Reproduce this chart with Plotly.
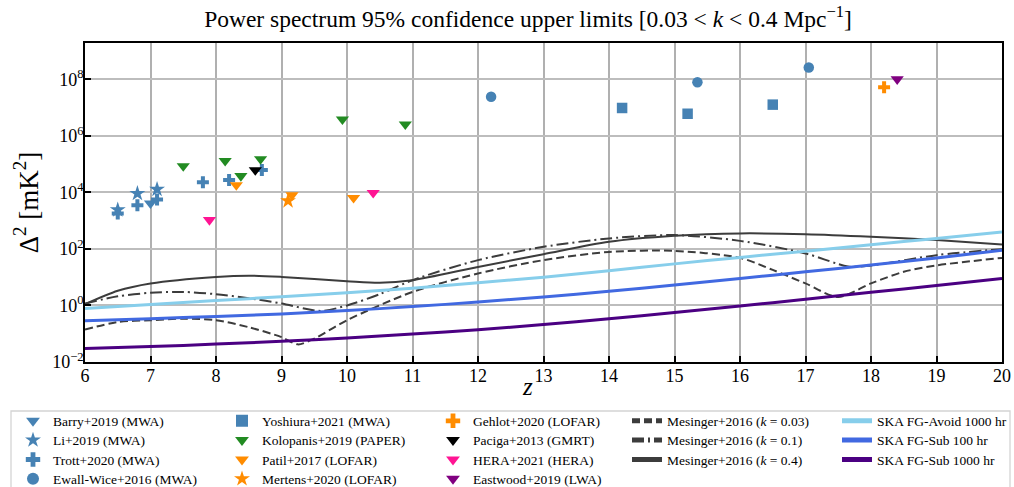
import plotly.graph_objects as go

# ---------------- data ----------------
barry_z = [7.0]
barry_d = [4.1e3]
li_z = [6.5, 6.8, 7.1]
li_d = [2.4e3, 9.1e3, 1.27e4]
trott_z = [6.5, 6.8, 7.1, 7.8, 8.2, 8.7]
trott_d = [1.8e3, 3.5e3, 5.6e3, 2.25e4, 2.7e4, 6.1e4]
ewall_z = [12.2, 15.35, 17.05]
ewall_d = [2.4e7, 7.8e7, 2.6e8]
yosh_z = [14.2, 15.2, 16.5]
yosh_d = [9.6e6, 6.0e6, 1.26e7]
kolo_z = [7.5, 8.14, 8.38, 8.68, 9.93, 10.89]
kolo_d = [8.5e4, 1.3e5, 3.8e4, 1.5e5, 3.8e6, 2.55e6]
patil_z = [8.31, 9.16, 10.1]
patil_d = [1.8e4, 8.0e3, 6.4e3]
mertens_z = [9.1]
mertens_d = [5.0e3]
gehlot_z = [18.2]
gehlot_d = [5.2e7]
paciga_z = [8.6]
paciga_d = [6.1e4]
hera_z = [7.9, 10.4]
hera_d = [1.05e3, 9.6e3]
east_z = [18.4]
east_d = [1.0e8]

mes003_z = [6, 6.5, 7, 7.5, 8, 8.5, 9, 9.25, 9.5, 10, 11, 12, 13, 14, 15, 16, 16.5, 17, 17.5, 18, 18.5, 19, 20]
mes003_d = [0.14, 0.26, 0.30, 0.34, 0.30, 0.17, 0.076, 0.042, 0.067, 0.30, 3.0, 13.5, 40, 78, 85, 48, 18, 6.0, 2.0, 6.0, 15.5, 26, 48]
mes01_z = [6, 6.5, 7, 7.5, 8, 8.5, 9, 9.6, 10, 10.5, 11, 12, 13, 14, 15, 16, 17, 17.65, 18, 19, 20]
mes01_d = [1.17, 2.1, 2.8, 3.0, 2.5, 1.8, 1.17, 0.64, 1.0, 2.5, 7.8, 40, 118, 234, 307, 192, 69, 24, 26, 60, 98]
mes04_z = [6, 6.5, 7, 8, 8.5, 9, 10, 10.5, 11, 12, 13, 14, 15, 16, 17, 18, 19, 20]
mes04_d = [1.1, 3.3, 6.0, 10.2, 11.3, 10.2, 7.2, 6.3, 7.8, 23, 65, 178, 290, 353, 330, 268, 204, 144]

ska_z = [6, 7, 8, 9, 10, 11, 12, 13, 14, 15, 16, 17, 18, 19, 20]
ska_avoid = [0.78, 1.07, 1.48, 2.04, 2.82, 4.07, 6.3, 10, 17, 29.5, 50, 83, 141, 234, 398]
ska_sub100 = [0.29, 0.34, 0.41, 0.50, 0.66, 0.91, 1.32, 2.0, 3.16, 5.25, 8.9, 15.5, 26.9, 47.9, 89]
ska_sub1000 = [0.030, 0.035, 0.043, 0.054, 0.071, 0.098, 0.138, 0.21, 0.34, 0.56, 0.95, 1.66, 2.9, 5.1, 8.9]

x_ticks = list(range(6, 21))
y_tickvals = [1e-2, 1e0, 1e2, 1e4, 1e6, 1e8]
y_ticktext = ["10<sup>−2</sup>", "10<sup>0</sup>", "10<sup>2</sup>", "10<sup>4</sup>",
              "10<sup>6</sup>", "10<sup>8</sup>"]

FONT = "Liberation Serif, Times New Roman, serif"
MES_COL = "#3c3c3c"

# legend grid (pixel positions of each entry's text start / row centre)
W, H = 1014, 487
ML, MR, MT, MB = 85, 12, 43, 125
PW, PH = W - ML - MR, H - MT - MB
COL_TEXT_X = [53, 262, 473, 667, 877]
ROW_Y = [421, 440.3, 459.7, 479]

fig = go.Figure()
legends = {}
counter = [0]


def leg_for(col, row):
    counter[0] += 1
    key = "legend" if counter[0] == 1 else "legend%d" % counter[0]
    legends[key] = dict(
        x=(COL_TEXT_X[col] - 40 - ML) / PW, xanchor="left",
        y=(MT + PH - ROW_Y[row]) / PH, yanchor="middle",
        orientation="v", bgcolor="rgba(0,0,0,0)", borderwidth=0,
        itemsizing="constant",
        font=dict(family=FONT, size=13.5, color="#000"))
    return key


def curve(x, y, name, color, width, dash, col, row):
    fig.add_trace(go.Scatter(x=x, y=y, mode="lines", name=name, legend=leg_for(col, row),
                             line=dict(color=color, width=width, dash=dash, shape="spline", smoothing=0.8)))


def pts(x, y, name, color, symbol, size, col, row):
    fig.add_trace(go.Scatter(x=x, y=y, mode="markers", name=name, legend=leg_for(col, row),
                             marker=dict(color=color, symbol=symbol, size=size, line=dict(width=0))))


# ---- model curves ----
curve(mes003_z, mes003_d, "Mesinger+2016 (<i>k</i> = 0.03)", MES_COL, 2, "8px,4px", 3, 0)
curve(mes01_z, mes01_d, "Mesinger+2016 (<i>k</i> = 0.1)", MES_COL, 2, "12px,4px,2px,4px", 3, 1)
curve(mes04_z, mes04_d, "Mesinger+2016 (<i>k</i> = 0.4)", MES_COL, 2, "solid", 3, 2)
curve(ska_z, ska_avoid, "SKA FG-Avoid 1000 hr", "#87ceeb", 3, "solid", 4, 0)
curve(ska_z, ska_sub100, "SKA FG-Sub 100 hr", "#4169e1", 3, "solid", 4, 1)
curve(ska_z, ska_sub1000, "SKA FG-Sub 1000 hr", "#4b0082", 3, "solid", 4, 2)

# ---- measurements ----
SB = "#4682b4"
TRI, STAR, CROSS, CIRC, SQ = 11.5, 12, 10, 10.5, 10.5
pts(barry_z, barry_d, "Barry+2019 (MWA)", SB, "triangle-down", TRI, 0, 0)
pts(li_z, li_d, "Li+2019 (MWA)", SB, "star", STAR, 0, 1)
pts(trott_z, trott_d, "Trott+2020 (MWA)", SB, "cross", CROSS, 0, 2)
pts(ewall_z, ewall_d, "Ewall-Wice+2016 (MWA)", SB, "circle", CIRC, 0, 3)
pts(yosh_z, yosh_d, "Yoshiura+2021 (MWA)", SB, "square", SQ, 1, 0)
pts(kolo_z, kolo_d, "Kolopanis+2019 (PAPER)", "#228b22", "triangle-down", TRI, 1, 1)
pts(patil_z, patil_d, "Patil+2017 (LOFAR)", "#ff8c00", "triangle-down", TRI, 1, 2)
pts(mertens_z, mertens_d, "Mertens+2020 (LOFAR)", "#ff8c00", "star", STAR, 1, 3)
pts(gehlot_z, gehlot_d, "Gehlot+2020 (LOFAR)", "#ff8c00", "cross", CROSS, 2, 0)
pts(paciga_z, paciga_d, "Paciga+2013 (GMRT)", "#000000", "triangle-down", TRI, 2, 1)
pts(hera_z, hera_d, "HERA+2021 (HERA)", "#ff1493", "triangle-down", TRI, 2, 2)
pts(east_z, east_d, "Eastwood+2019 (LWA)", "#800080", "triangle-down", TRI, 2, 3)

fig.update_layout(**legends)

fig.add_shape(type="rect", xref="paper", yref="paper",
              x0=(11 - ML) / PW, x1=(1010 - ML) / PW, y0=-0.60, y1=(MT + PH - 411) / PH,
              line=dict(color="#d4d4d4", width=1.3), fillcolor="rgba(0,0,0,0)", layer="below")

fig.add_annotation(text="<i>z</i>", xref="paper", yref="paper", x=(527 - ML) / PW, y=(MT + PH - 386) / PH,
                   xanchor="center", yanchor="middle", showarrow=False,
                   font=dict(family=FONT, size=25, color="#000"))

fig.update_layout(
    width=W, height=H,
    margin=dict(l=ML, r=MR, t=MT, b=MB, autoexpand=False),
    paper_bgcolor="white", plot_bgcolor="white",
    font=dict(family=FONT, color="#000"),
    title=dict(text="Power spectrum 95% confidence upper limits [0.03 &lt; <i>k</i> &lt; 0.4 Mpc<sup>−1</sup>]",
               x=0.5207, xanchor="center", y=0.962, yanchor="middle",
               font=dict(family=FONT, size=23.5, color="#000")),
    xaxis=dict(range=[6, 20], tickvals=x_ticks, ticks="inside", ticklen=6, tickwidth=1.5,
               tickcolor="#000", showline=True, linecolor="#000", linewidth=1.5, mirror=True,
               showgrid=True, gridcolor="#b0b0b0", gridwidth=1.8, zeroline=False,
               tickfont=dict(family=FONT, size=18), ticklabelstandoff=-3),
    yaxis=dict(type="log", range=[-2, 9.28], tickvals=y_tickvals, ticktext=y_ticktext,
               ticks="inside", ticklen=6, tickwidth=1.5, tickcolor="#000",
               showline=True, linecolor="#000", linewidth=1.5, mirror=True,
               showgrid=True, gridcolor="#bdbdbd", gridwidth=1.8, zeroline=False,
               tickfont=dict(family=FONT, size=18), ticklabelstandoff=-4,
               title=dict(text="Δ<sup>2</sup> [mK<sup>2</sup>]", font=dict(family=FONT, size=27), standoff=6)),
    showlegend=True,
)

fig.write_html("out.html", config={"displayModeBar": False},
               post_script="document.body.style.margin='0px';")
